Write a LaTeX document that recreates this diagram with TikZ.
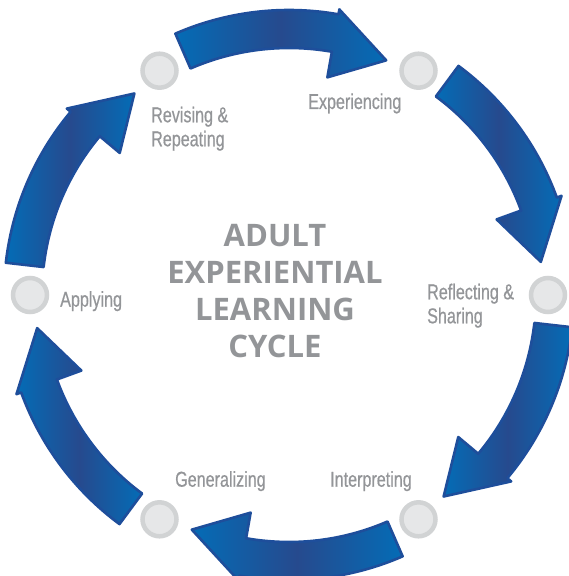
\documentclass[tikz,border=0pt]{standalone}
\usepackage{fontspec}
\newfontfamily\titlefont{Open Sans}
\newfontfamily\labelfont[FakeStretch=0.75,FakeBold=0.6]{Liberation Sans}
\definecolor{arrowlight}{RGB}{4,108,182}
\definecolor{arrowdark}{RGB}{38,74,142}
\definecolor{arrowedge}{RGB}{30,78,155}
\definecolor{dotfill}{RGB}{230,231,232}
\definecolor{dotedge}{RGB}{209,211,212}
\definecolor{textgrey}{RGB}{147,149,152}
\tikzset{
  cyclearrow/.style={draw=arrowedge, line width=2.6pt, line join=round,
    left color=arrowlight, right color=arrowlight, middle color=arrowdark},
  stagedot/.style={circle, draw=dotedge, fill=dotfill, line width=4.5pt,
    minimum size=34pt, inner sep=0pt},
  stagelabel/.style={text=textgrey, inner sep=0pt, align=left,
    font={\labelfont\fontsize{21.5}{24}\selectfont}},
  titletext/.style={text=textgrey, inner sep=0pt, align=center,
    font={\titlefont\bfseries\fontsize{31}{36.7}\selectfont}}
}
\begin{document}
\begin{tikzpicture}[x=1pt,y=1pt]
\useasboundingbox (0,0) rectangle (568,576);
\begin{scope}[shift={(289,281)}]
  \foreach \p in {90,30,-30,-90,-150,150} {
    \path[cyclearrow] ({\p+23.5}:285) arc[start angle={\p+23.5}, end angle={\p-10}, radius=285]
      -- ({\p-10}:290) -- ({\p-22.5}:254) -- ({\p-10}:221) -- ({\p-10}:247)
      arc[start angle={\p-10}, end angle={\p+23.5}, radius=247] -- cycle;
  }
  \node[stagedot] (d0) at (0:259) {};
  \node[stagedot] (d60) at (60:259) {};
  \node[stagedot] (d120) at (120:259) {};
  \node[stagedot] (d180) at (180:259) {};
  \node[stagedot] (d240) at (240:259) {};
  \node[stagedot] (d300) at (300:259) {};
\end{scope}
\node[titletext] (title) at (275,285) {ADULT\\EXPERIENTIAL\\LEARNING\\CYCLE};
\node[stagelabel, anchor=north west] (revising) at (151,469.5) {Revising \&\\Repeating};
\node[stagelabel, anchor=base west] (experiencing) at (308,467) {Experiencing};
\node[stagelabel, anchor=north west] (reflecting) at (427,292.5) {Reflecting \&\\Sharing};
\node[stagelabel, anchor=base west] (applying) at (60,269.3) {Applying};
\node[stagelabel, anchor=base west] (generalizing) at (175,89.3) {Generalizing};
\node[stagelabel, anchor=base west] (interpreting) at (330,89.3) {Interpreting};
\end{tikzpicture}
\end{document}
